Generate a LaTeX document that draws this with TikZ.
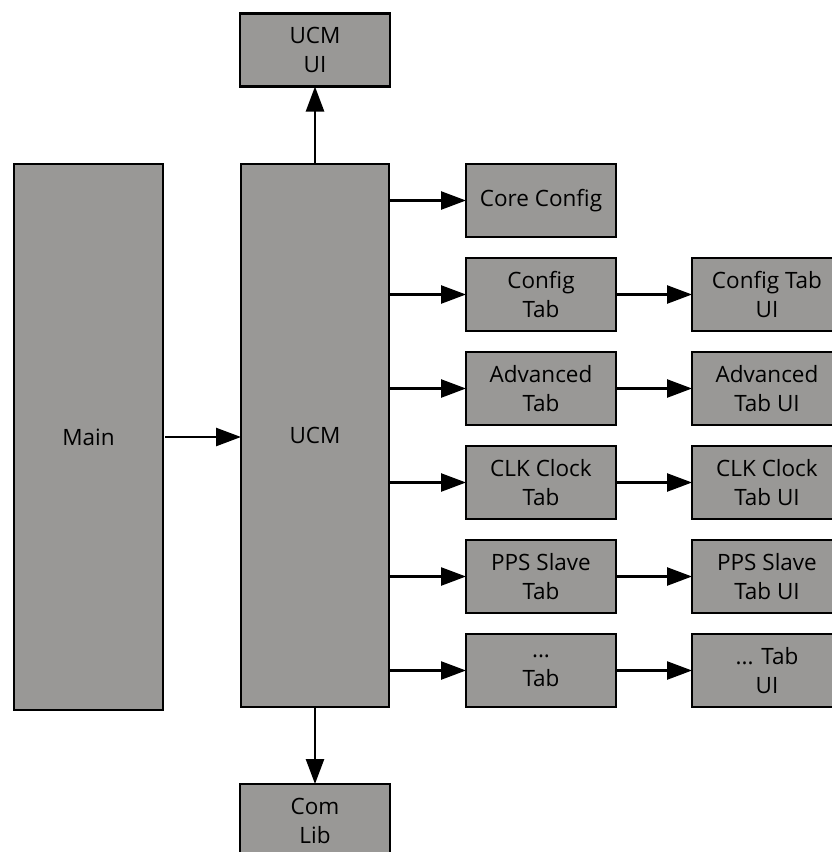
\documentclass[tikz,border=0pt]{standalone}
\usepackage{fontspec}
\setmainfont{Open Sans}
\usetikzlibrary{arrows.meta}
\definecolor{boxgray}{RGB}{153,152,150}
\begin{document}
\begin{tikzpicture}[x=1pt,y=-1pt,
  blk/.style={draw=black,line width=2.5pt,fill=boxgray,rectangle,align=center,
    inner sep=0pt,outer sep=0pt,font=\fontsize{22.5}{29}\selectfont},
  small/.style={blk,minimum width=150pt,minimum height=73pt},
  arr/.style={line width=2.5pt,-{Triangle[length=25pt,width=18pt]}}]
\useasboundingbox (0,0) rectangle (832,852);
\node[blk,minimum width=149pt,minimum height=546pt] (main) at (88.5,437) {Main};
\node[blk,minimum width=148pt,minimum height=543pt] (ucm) at (315,435.5) {UCM};
\node[small] (ucmui) at (315,50) {UCM\\UI};
\node[small] (comlib) at (315,820.5) {Com\\Lib};
\node[small] (core) at (541,200.5) {Core Config};
\node[small] (cfg) at (541,294.5) {Config\\Tab};
\node[small] (adv) at (541,388.5) {Advanced\\Tab};
\node[small] (clk) at (541,482.5) {CLK Clock\\Tab};
\node[small] (pps) at (541,576.5) {PPS Slave\\Tab};
\node[small] (etc) at (541,670.5) {...\\Tab};
\node[small] (cfgui) at (767,294.5) {Config Tab\\UI};
\node[small] (advui) at (767,388.5) {Advanced\\Tab UI};
\node[small] (clkui) at (767,482.5) {CLK Clock\\Tab UI};
\node[small] (ppsui) at (767,576.5) {PPS Slave\\Tab UI};
\node[small] (etcui) at (767,670.5) {... Tab\\UI};
\draw[arr] (ucm.north) -- (ucmui.south);
\draw[arr] (ucm.south) -- (comlib.north);
\draw[arr] (ucm.west |- main.east) ++(-76,0) coordinate (m1) -- (ucm.west |- m1);
\foreach \n in {core,cfg,adv,clk,pps,etc}
  \draw[arr] (ucm.east |- \n.west) -- (\n.west);
\foreach \a/\b in {cfg/cfgui,adv/advui,clk/clkui,pps/ppsui,etc/etcui}
  \draw[arr] (\a.east) -- (\b.west);
\end{tikzpicture}
\end{document}
